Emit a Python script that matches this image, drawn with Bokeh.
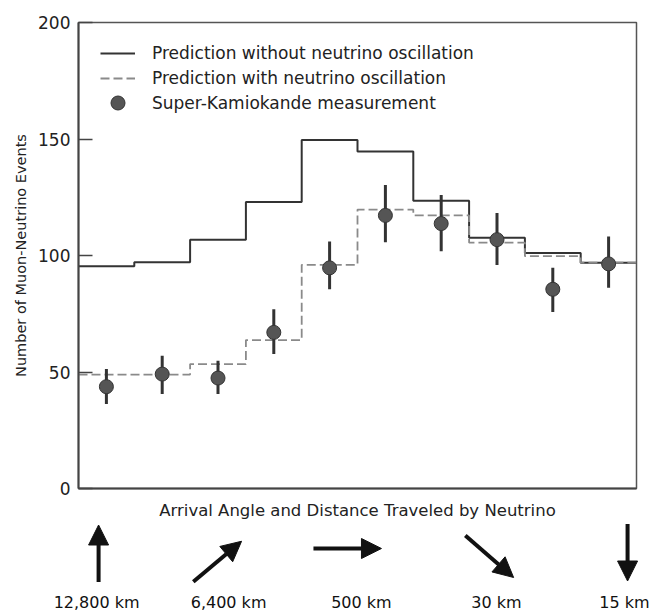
import math
from bokeh.plotting import figure
from bokeh.models import Range1d, FixedTicker, Legend, LegendItem, Arrow, NormalHead
from bokeh.core.properties import value
from bokeh.embed import file_html
from bokeh.resources import INLINE

# ---------------- data ----------------
bin_edges = [-1.0, -0.8, -0.6, -0.4, -0.2, 0.0, 0.2, 0.4, 0.6, 0.8, 1.0]
no_osc = [95.4, 97.1, 106.8, 123.0, 149.6, 144.6, 123.5, 107.6, 101.1, 96.9]
with_osc = [48.9, 48.9, 53.4, 63.7, 96.0, 119.7, 117.2, 105.5, 99.7, 96.9]
measured = [43.7, 49.1, 47.4, 67.0, 94.7, 117.2, 113.7, 106.8, 85.5, 96.4]
err_hi = [51.3, 57.0, 54.8, 76.9, 106.0, 130.3, 126.0, 118.2, 94.7, 108.2]
err_lo = [36.3, 40.6, 40.6, 57.7, 85.5, 105.7, 101.8, 95.9, 75.8, 86.2]
y_ticks = [0, 50, 100, 150, 200]
distances = ["12,800 km", "6,400 km", "500 km", "30 km", "15 km"]
arrow_angles = [90, 40, 0, -41, -90]   # direction of travel, degrees

FONT = "DejaVu Sans"
TXT = "#222222"
SOLID = dict(line_color="#333333", line_width=2)
DASH = dict(line_color="#8a8a8a", line_width=1.8, line_dash="9 4")

centers = [(a + b) / 2 for a, b in zip(bin_edges[:-1], bin_edges[1:])]


def step_xy(edges, vals):
    xs, ys = [], []
    for i, v in enumerate(vals):
        xs += [edges[i], edges[i + 1]]
        ys += [v, v]
    return xs, ys


# ---------------- main plot ----------------
p = figure(width=646, height=522, x_range=Range1d(-1, 1), y_range=Range1d(0, 200),
           output_backend="svg", toolbar_location=None,
           min_border_left=78, min_border_right=10, min_border_top=22, min_border_bottom=32)
p.xgrid.grid_line_color = None
p.ygrid.grid_line_color = None
p.outline_line_color = "#555555"
p.outline_line_width = 1.5

sx, sy = step_xy(bin_edges, no_osc)
r_solid = p.line(x=sx, y=sy, **SOLID)
dx_, dy_ = step_xy(bin_edges, with_osc)
r_dash = p.line(x=dx_, y=dy_, **DASH)
p.segment(x0=centers, y0=err_lo, x1=centers, y1=err_hi, line_color="#333333", line_width=3)
r_pts = p.scatter(x=centers, y=measured, size=14, fill_color="#555555",
                  line_color="#333333", line_width=1)

yax = p.yaxis[0]
yax.ticker = FixedTicker(ticks=y_ticks)
yax.major_tick_in = 14
yax.major_tick_out = 0
yax.minor_tick_in = 0
yax.minor_tick_out = 0
yax.major_tick_line_width = 1.5
yax.major_tick_line_color = "#444444"
yax.axis_line_width = 2
yax.axis_line_color = "#444444"
yax.major_label_standoff = 8
yax.major_label_text_font = FONT
yax.major_label_text_font_size = "17px"
yax.major_label_text_color = TXT
yax.axis_label = "Number of Muon-Neutrino Events"
yax.axis_label_text_font = FONT
yax.axis_label_text_font_size = "14.5px"
yax.axis_label_text_font_style = "normal"
yax.axis_label_text_color = TXT
yax.axis_label_standoff = 6

xax = p.xaxis[0]
xax.ticker = FixedTicker(ticks=[])
xax.major_tick_out = 0
xax.minor_tick_out = 0
xax.axis_line_width = 2
xax.axis_line_color = "#444444"
xax.axis_label = "Arrival Angle and Distance Traveled by Neutrino"
xax.axis_label_text_font = FONT
xax.axis_label_text_font_size = "16.5px"
xax.axis_label_text_font_style = "normal"
xax.axis_label_text_color = TXT
xax.axis_label_standoff = 12

LEG = dict(margin=0, padding=0, glyph_width=35, label_standoff=17,
           border_line_color=None, background_fill_alpha=0, label_text_font=FONT,
           label_text_font_size="17px", label_text_color=TXT)
# lines legend (two rows, 25 px pitch)
legend_lines = Legend(items=[
    LegendItem(label="Prediction without neutrino oscillation", renderers=[r_solid]),
    LegendItem(label="Prediction with neutrino oscillation", renderers=[r_dash]),
], location=(22, 400), glyph_height=20, label_height=20, spacing=5, **LEG)
# marker legend (tall row so the marker is drawn at full size)
legend_pts = Legend(items=[
    LegendItem(label="Super-Kamiokande measurement", renderers=[r_pts]),
], location=(22, 368), glyph_height=35, label_height=35, spacing=0, **LEG)
p.add_layout(legend_lines)
p.add_layout(legend_pts)

# ---------------- arrows panel (separate root, directly below) ----------------
PX = 279.0  # pixels per x unit in the main frame (558 px / 2 units)
H2 = 91
W2 = 652
q = figure(width=W2, height=H2, x_range=Range1d(-1 - 78 / PX, 1 + (W2 - 636) / PX),
           y_range=Range1d(0, H2), output_backend="svg", toolbar_location=None,
           x_axis_type=None, y_axis_type=None, min_border=0)
q.grid.visible = False
q.outline_line_color = None

label_pos = [-0.935, -0.462, 0.014, 0.498, 0.957]
arrow_pos = [-0.928, -0.502, -0.036, 0.473, 0.968]
arrow_cy = [60, 52, 65, 57, 61]   # px from the bottom of the panel
arrow_len = [57, 63, 68, 64, 57]

for cx, cy, L, a in zip(arrow_pos, arrow_cy, arrow_len, arrow_angles):
    rad = math.radians(a)
    ddx = L / 2 * math.cos(rad) / PX
    ddy = L / 2 * math.sin(rad)
    q.add_layout(Arrow(x_start=cx - ddx, y_start=cy - ddy, x_end=cx + ddx, y_end=cy + ddy,
                       line_width=4, line_color="#111111",
                       end=NormalHead(size=20, fill_color="#111111", line_color="#111111")))

q.text(x=label_pos, y=[11] * len(label_pos), text=distances, text_align="center",
       text_baseline="middle", text_font=value(FONT), text_font_size="16px",
       text_color="#111111")

open("out.html", "w").write(file_html([p, q], INLINE))
